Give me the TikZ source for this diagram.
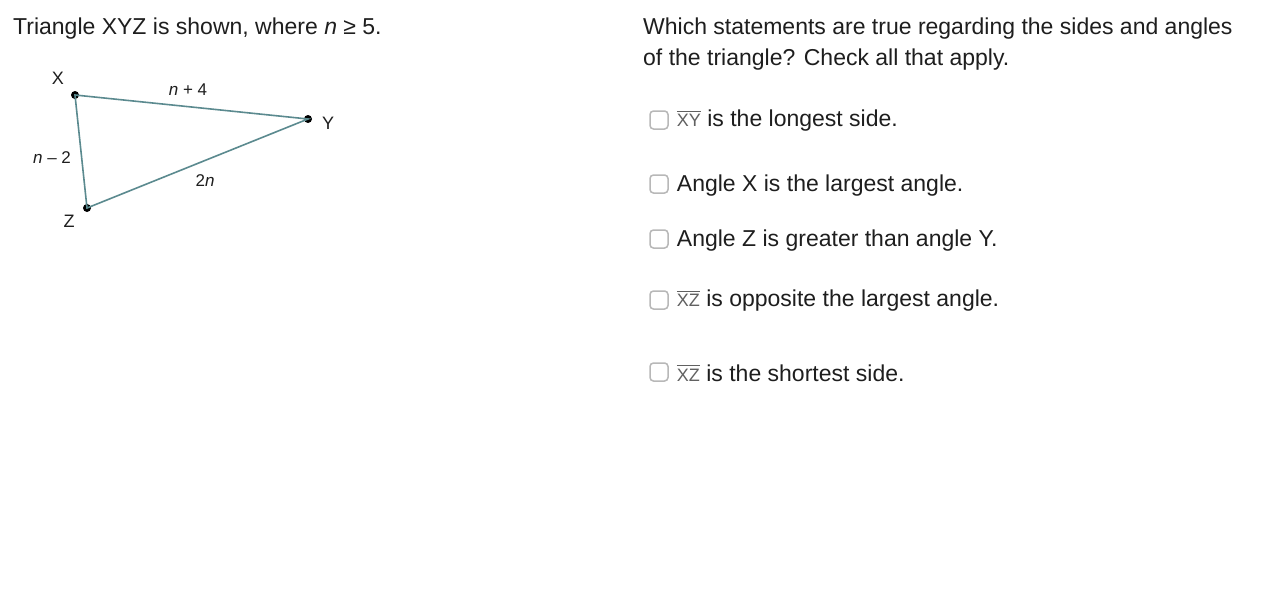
\documentclass[tikz,border=0pt]{standalone}
\usepackage{fontspec}
\setmainfont{Liberation Sans}
\usetikzlibrary{positioning}

\definecolor{edgeteal}{HTML}{5B8A8F}
\definecolor{boxgray}{HTML}{B8B8B8}
\definecolor{txtgray}{HTML}{1E1E1E}

\newcommand{\segm}[1]{{\fontsize{18}{20}\selectfont\color{black!62}$\overline{\mbox{#1}\rule{0pt}{14.5pt}}$}}

\tikzset{
  vdot/.style={circle,fill=black,inner sep=0pt,minimum size=8pt},
  vname/.style={font=\fontsize{18}{20}\selectfont,text=txtgray},
  sname/.style={font=\fontsize{17}{20}\selectfont,text=txtgray},
  bigtext/.style={font=\fontsize{23}{27}\selectfont,text=txtgray,anchor=west,inner sep=0pt},
  chkbox/.style={draw=boxgray,line width=1.5pt,rounded corners=3.5pt,minimum size=18pt,inner sep=0pt},
}

\begin{document}
\begin{tikzpicture}[x=1pt,y=-1pt]
  \useasboundingbox[fill=white] (0,0) rectangle (1269,589);

  % heading left
  \node[bigtext] (title) at (13,29) {Triangle XYZ is shown, where \textit{n} ≥ 5.};

  % triangle
  \node[vdot] (X) at (75,95) {};
  \node[vdot] (Y) at (308,119) {};
  \node[vdot] (Z) at (87,208) {};
  \draw[edgeteal,line width=1.6pt] (X.center) -- (Y.center) -- (Z.center) -- cycle;

  \node[vname] (lX) at (58,78) {X};
  \node[vname] (lY) at (328,123) {Y};
  \node[vname] (lZ) at (69,221) {Z};
  \node[sname] (sXY) at (188,90) {\textit{n} + 4};
  \node[sname] (sXZ) at (52,158) {\textit{n} -- 2};
  \node[sname] (sYZ) at (205,181) {2\textit{n}};

  % question right
  \node[bigtext] (q1) at (643,29) {Which statements are true regarding the sides and angles};
  \node[bigtext] (q2) at (643,60) {of the triangle? Check all that apply.};

  % choices
  \node[chkbox] (c1) at (659,120) {};
  \node[chkbox] (c2) at (659,184) {};
  \node[chkbox] (c3) at (659,239) {};
  \node[chkbox] (c4) at (659,300) {};
  \node[chkbox] (c5) at (659,372) {};

  \node[bigtext,right=8pt of c1,yshift=-1pt] (a1) {\segm{XY} is the longest side.};
  \node[bigtext,right=8pt of c2,yshift=-2pt] (a2) {Angle X is the largest angle.};
  \node[bigtext,right=8pt of c3,yshift=-2pt] (a3) {Angle Z is greater than angle Y.};
  \node[bigtext,right=8pt of c4,yshift=-1pt] (a4) {\segm{XZ} is opposite the largest angle.};
  \node[bigtext,right=8pt of c5,yshift=-1pt] (a5) {\segm{XZ} is the shortest side.};
\end{tikzpicture}
\end{document}
